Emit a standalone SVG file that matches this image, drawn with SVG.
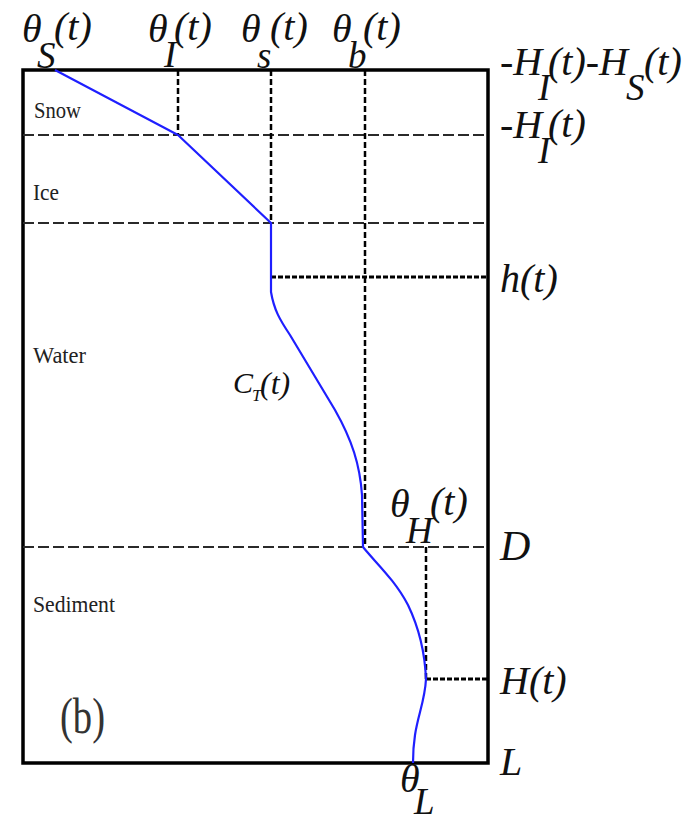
<svg xmlns="http://www.w3.org/2000/svg" width="684" height="819" viewBox="0 0 684 819">
<style>
.lab{font-size:24px;fill:#222}
.m{font-style:italic;font-size:40px;fill:#111}
.sub{font-size:37px}
.box{fill:none;stroke:#000;stroke-width:3.5}
.hd{stroke:#2a2a2a;stroke-width:2;stroke-dasharray:11 4;fill:none}
.vd{stroke:#000;stroke-width:2.5;stroke-dasharray:6 3;fill:none}
.dot{stroke:#000;stroke-width:3;stroke-dasharray:5 2;fill:none}
.curve{fill:none;stroke:#1f1fff;stroke-width:2.2;stroke-linejoin:round}
</style>
<rect width="684" height="819" fill="#fff"/>
<g id="frame">
<rect class="box" x="23" y="70" width="465" height="693"/>
</g>
<g id="connectors">
<line class="hd" x1="23" y1="135" x2="488" y2="135"/>
<line class="hd" x1="23" y1="223" x2="488" y2="223"/>
<line class="hd" x1="23" y1="547" x2="488" y2="547"/>
<line class="vd" x1="178" y1="70" x2="178" y2="135"/>
<line class="vd" x1="271" y1="70" x2="271" y2="223"/>
<line class="vd" x1="365" y1="70" x2="365" y2="547"/>
<line class="dot" x1="271" y1="277" x2="488" y2="277"/>
<line class="vd" x1="426" y1="547" x2="426" y2="679"/>
<line class="dot" x1="426" y1="679" x2="488" y2="679"/>
<path class="curve" d="M55,70 L178,135 L271,223 L271,277"/>
<path class="curve" d="M271,277 L271,292 C274,310 280,320 290,335 L335,410 C352,440 360,465 362,495 L363,547 C375,562 395,580 408,605 C420,630 425,655 426,679 C425,700 418,715 415,735 C413,748 413,755 413,763"/>
</g>
<g font-family="Liberation Serif, Times New Roman, serif">
<g id="layer-labels">
<text class="lab" x="34" y="118" textLength="47" lengthAdjust="spacingAndGlyphs">Snow</text>
<text class="lab" x="33" y="200" textLength="26" lengthAdjust="spacingAndGlyphs">Ice</text>
<text class="lab" x="33" y="363" textLength="53" lengthAdjust="spacingAndGlyphs">Water</text>
<text class="lab" x="33" y="612" textLength="82" lengthAdjust="spacingAndGlyphs">Sediment</text>
<text class="lab" x="60" y="733" style="font-size:50px;fill:#333" textLength="45" lengthAdjust="spacingAndGlyphs">(b)</text>
</g>
<g id="theta-S">
<text class="m" x="22" y="42">θ<tspan class="sub" x="37" y="68">S</tspan><tspan x="54" y="40">(t)</tspan></text>
</g>
<g id="theta-I">
<text class="m" x="148" y="42">θ<tspan class="sub" x="164" y="67">I</tspan><tspan x="174" y="40">(t)</tspan></text>
</g>
<g id="theta-s">
<text class="m" x="241" y="42">θ<tspan class="sub" x="257" y="68">s</tspan><tspan x="270" y="40">(t)</tspan></text>
</g>
<g id="theta-b">
<text class="m" x="332" y="42">θ<tspan class="sub" x="348" y="68">b</tspan><tspan x="363" y="40">(t)</tspan></text>
</g>
<g id="label-top">
<text class="m" x="500" y="75">-H<tspan class="sub" x="538" y="100">I</tspan><tspan x="548" y="75">(t)-H</tspan><tspan class="sub" x="626" y="100">S</tspan><tspan x="644" y="75">(t)</tspan></text>
</g>
<g id="label-HI">
<text class="m" x="500" y="138">-H<tspan class="sub" x="538" y="163">I</tspan><tspan x="548" y="137">(t)</tspan></text>
</g>
<g id="label-h">
<text class="m" x="500" y="292">h(t)</text>
</g>
<g id="label-CT">
<text class="m" x="233" y="393" style="font-size:30px">C<tspan style="font-size:17px" x="252" y="401">T</tspan><tspan style="font-size:32px" x="260" y="394">(t)</tspan></text>
</g>
<g id="theta-H">
<text class="m" x="390" y="517">θ<tspan class="sub" x="406" y="543">H</tspan><tspan x="430" y="515">(t)</tspan></text>
</g>
<g id="label-D">
<text class="m" x="500" y="560" style="font-size:42px">D</text>
</g>
<g id="label-Ht">
<text class="m" x="500" y="694">H(t)</text>
</g>
<g id="label-L">
<text class="m" x="500" y="775">L</text>
</g>
<g id="theta-L">
<text class="m" x="400" y="792">θ<tspan class="sub" x="414" y="814">L</tspan></text>
</g>
</g>
</svg>
